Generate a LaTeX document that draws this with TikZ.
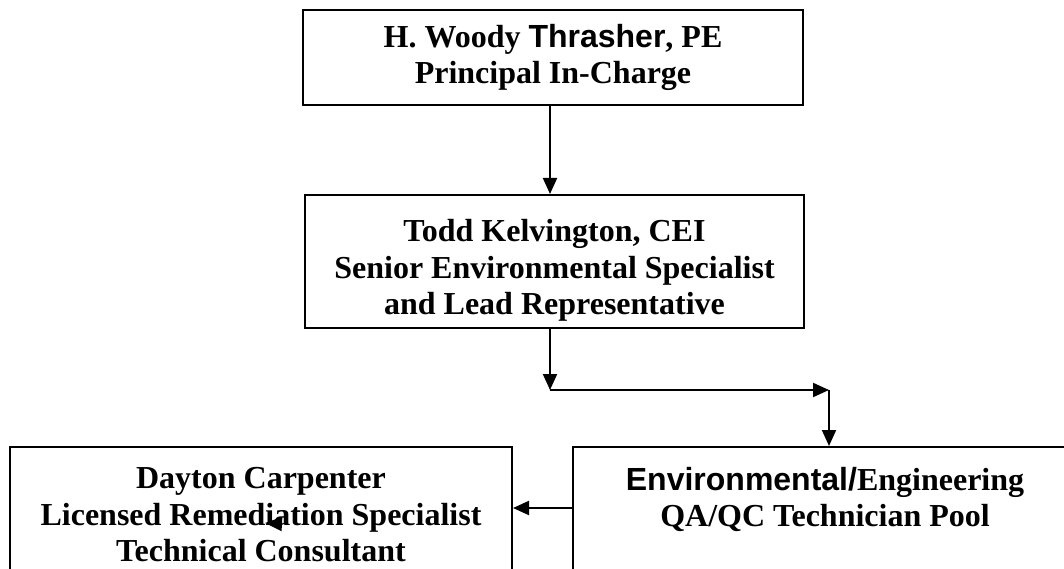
\documentclass[tikz,border=0pt]{standalone}
\usepackage{fontspec}
\setmainfont{Liberation Serif}
\newfontfamily\arialfont{Liberation Sans}
\usepackage{tikz}
\usetikzlibrary{arrows.meta}
\tikzstyle{Position}=[shape=rectangle, draw=black, line width=2pt, fill=white, text=black, align=center, font=\fontsize{32}{36.5}\selectfont\bfseries, inner sep=0pt]
\tikzstyle{arrow}=[line width=2pt, -{Triangle[length=16pt,width=14pt]}]
\pgfdeclarelayer{nodelayer}
\pgfdeclarelayer{edgelayer}
\pgfsetlayers{nodelayer, edgelayer}

\begin{document}
\begin{tikzpicture}[x=1pt, y=-1pt]
	\useasboundingbox (0, 0) rectangle (1064, 569);
	\clip (0, 0) rectangle (1064, 569);
	\begin{pgfonlayer}{nodelayer}
		\node [style=Position, minimum width=500pt, minimum height=95pt] (principal) at (553, 57.5) {H. Woody {\arialfont Thrasher}, PE\\Principal In-Charge};
		\node [style=Position, minimum width=499pt, minimum height=133pt] (lead) at (554.5, 261.5) {\raisebox{0pt}[\dimexpr\height+18pt]{Todd Kelvington, CEI}\\Senior Environmental Specialist\\and Lead Representative};
		% bottom row
		\node [style=Position, minimum width=502pt, minimum height=136pt] (consultant) at (261, 515) {Dayton Carpenter\\Licensed Remediation Specialist\\Technical Consultant};
		\node [style=Position, minimum width=504pt, minimum height=136pt] (pool) at (825, 515) {{\arialfont Environmental/}Engineering\\QA/QC Technician Pool\\\mbox{}};
		\coordinate (drop) at (550, 390);
		\coordinate (turn) at (829, 390);
		\coordinate (stray_a) at (282, 524);
		\coordinate (stray_b) at (265, 523);
	\end{pgfonlayer}
	\begin{pgfonlayer}{edgelayer}
		\draw [style=arrow] ([xshift=-3pt]principal.south) to ([xshift=-4.5pt]lead.north);
		\draw [style=arrow] ([xshift=-4.5pt]lead.south) to (drop);
		\draw [style=arrow] (drop) to (turn);
		\draw [style=arrow] (turn) to ([xshift=4pt]pool.north);
		\draw [style=arrow] ([yshift=7pt]pool.west) to ([yshift=7pt]consultant.east);
		\draw [style=arrow, -{Triangle[length=17pt,width=14pt]}] (stray_a) to (stray_b);
	\end{pgfonlayer}
\end{tikzpicture}
\end{document}
